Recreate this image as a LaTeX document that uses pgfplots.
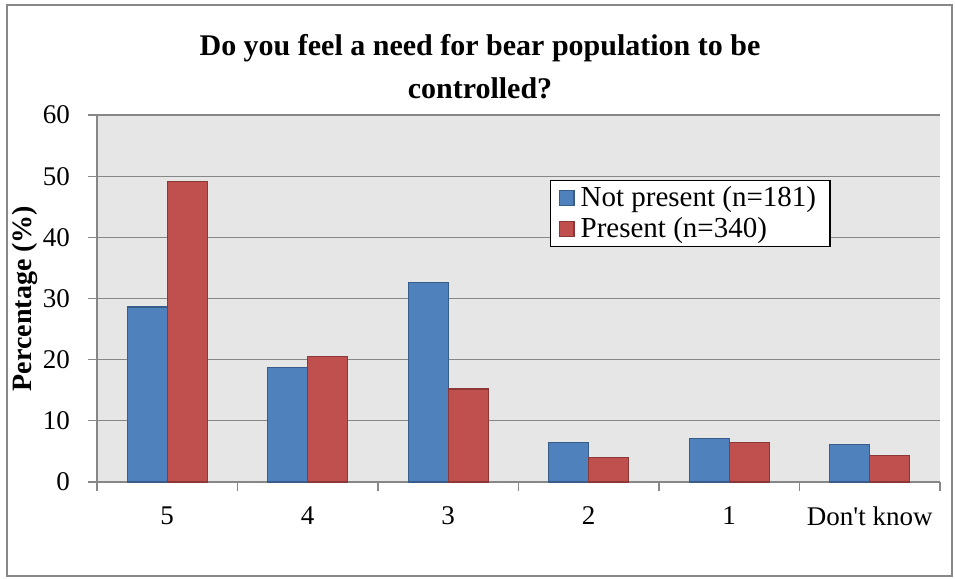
\documentclass[border=0pt]{standalone}
\usepackage{pgfplots}
\pgfplotsset{compat=1.18}
\usepackage{fontspec}
\setmainfont{Liberation Serif}
\definecolor{bgGray}{HTML}{E6E6E6}
\definecolor{gridGray}{HTML}{878787}
\definecolor{blueFill}{HTML}{4F81BD}
\definecolor{blueEdge}{HTML}{385D8A}
\definecolor{redFill}{HTML}{C0504D}
\definecolor{redEdge}{HTML}{8C3836}
\definecolor{frameGray}{HTML}{888888}
\begin{document}
\begin{tikzpicture}[x=1pt,y=1pt]
\path[use as bounding box] (-48.5,-48.5) rectangle (429,241);
\draw[frameGray, line width=0.75pt] (-45,-47) rectangle (427.5,238.5);
\node[align=center, font=\fontsize{15}{21.5}\selectfont\bfseries] at (191.5,207.75) {Do you feel a need for bear population to be\\controlled?};
\begin{axis}[
  at={(0,0)}, anchor=south west,
  width=421.5pt, height=183.5pt, scale only axis,
  xmin=-0.5, xmax=5.5, ymin=0, ymax=60,
  ytick={0,10,20,30,40,50,60},
  xtick={-0.5,0.5,1.5,2.5,3.5,4.5,5.5},
  xticklabels={5,4,3,2,1,Don\textquotesingle t know},
  x tick label as interval,
  ymajorgrids,
  grid style={gridGray, line width=0.6pt},
  axis background/.style={fill=bgGray},
  axis x line=bottom, axis y line=left,
  axis line style={-, gridGray, line width=0.6pt},
  tick style={gridGray, line width=0.6pt},
  tick align=outside,
  major tick length=4.5pt,
  /pgf/number format/assume math mode=true,
  tick label style={font=\fontsize{13.5}{16}\selectfont},
  xticklabel style={yshift=-4.5pt},
  yticklabel style={xshift=-5.5pt},
  ylabel={\textbf{Percentage (\%)}},
  ylabel style={at={(axis description cs:-0.086,0.5)}, anchor=center, font=\fontsize{14}{16.8}\selectfont},
  ybar=0pt, bar width=20pt,
  legend style={at={(axis description cs:0.5374,0.8229)}, anchor=north west,
    draw=black, line width=0.6pt, fill=white, font=\fontsize{14.5}{16}\selectfont,
    inner xsep=4pt, inner ysep=1pt, row sep=0pt,
    nodes={inner xsep=3pt}},
  legend cell align=left,
  legend image code/.code={\draw[#1, line width=0.6pt] (0pt,-3.7pt) rectangle (7.4pt,3.7pt);},
]
\addplot[fill=blueFill, draw=blueEdge, line width=0.6pt] coordinates {(0,28.6) (1,18.7) (2,32.6) (3,6.5) (4,7.1) (5,6.1)};
\addplot[fill=redFill, draw=redEdge, line width=0.6pt] coordinates {(0,49.1) (1,20.5) (2,15.2) (3,4.0) (4,6.4) (5,4.3)};
\legend{Not present (n=181), Present (n=340)}
\end{axis}
\end{tikzpicture}
\end{document}
